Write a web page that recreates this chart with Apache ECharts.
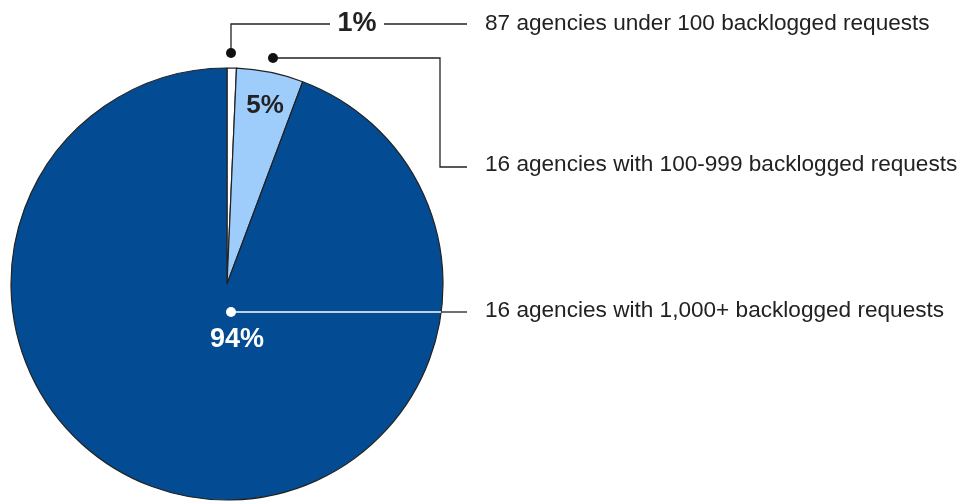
<!DOCTYPE html>
<html>
<head>
<meta charset="utf-8">
<script src="https://cdn.jsdelivr.net/npm/echarts@6/dist/echarts.min.js"></script>
<style>
  html, body { margin: 0; padding: 0; background: #fff; }
  #chart { width: 978px; height: 501px; }
</style>
</head>
<body>
<div id="chart"></div>
<script>
// data
const categories = [
  '87 agencies under 100 backlogged requests',
  '16 agencies with 100-999 backlogged requests',
  '16 agencies with 1,000+ backlogged requests'
]
const shares = [0.7, 5.0, 94.3] // share of backlogged requests, %
const sliceColors = ['#ffffff', '#9fcdfb', '#034c93']

const font = 'Arial, "Liberation Sans", sans-serif'
const ink = '#222222'

const chart = echarts.init(document.getElementById('chart'), null, { renderer: 'canvas' })

const pct = i => Math.round(shares[i]) + '%'

// leader lines + labels (annotation, not data marks)
const graphics = [
  // slice 0: under 100
  { type: 'polyline', shape: { points: [[231, 53], [231, 24], [330, 24]] }, style: { stroke: ink, lineWidth: 1.3, fill: null } },
  { type: 'line', shape: { x1: 384, y1: 24, x2: 467, y2: 24 }, style: { stroke: ink, lineWidth: 1.3 } },
  { type: 'circle', shape: { cx: 231, cy: 53, r: 5 }, style: { fill: '#111' } },
  { type: 'text', x: 357, y: 24, style: { text: pct(0), font: 'bold 27px ' + font, fill: ink, align: 'center', verticalAlign: 'middle' } },
  // slice 1: 100-999
  { type: 'polyline', shape: { points: [[273, 58], [440, 58], [440, 167], [467, 167]] }, style: { stroke: ink, lineWidth: 1.3, fill: null } },
  { type: 'circle', shape: { cx: 273, cy: 58, r: 5 }, style: { fill: '#111' } },
  { type: 'text', x: 265, y: 106, style: { text: pct(1), font: 'bold 26px ' + font, fill: ink, align: 'center', verticalAlign: 'middle' } },
  // slice 2: 1,000+
  { type: 'line', shape: { x1: 231, y1: 312, x2: 441, y2: 312 }, style: { stroke: '#ffffff', lineWidth: 1.3 } },
  { type: 'line', shape: { x1: 441, y1: 312, x2: 467, y2: 312 }, style: { stroke: ink, lineWidth: 1.3 } },
  { type: 'circle', shape: { cx: 231, cy: 312, r: 5 }, style: { fill: '#ffffff' } },
  { type: 'text', x: 237, y: 340, style: { text: pct(2), font: 'bold 27px ' + font, fill: '#ffffff', align: 'center', verticalAlign: 'middle' } }
]

const labelY = [24, 165, 311]
categories.forEach((c, i) => {
  graphics.push({
    type: 'text', x: 485, y: labelY[i],
    style: { text: c, font: '22.6px ' + font, fill: ink, align: 'left', verticalAlign: 'middle' }
  })
})
// keep annotations above the pie
graphics.forEach(g => { g.z = 100 })

chart.setOption({
  animation: false,
  backgroundColor: '#ffffff',
  series: [
    {
      type: 'pie',
      z: 1,
      center: [227, 284],
      radius: [0, 216],
      startAngle: 90,
      clockwise: true,
      avoidLabelOverlap: false,
      label: { show: false },
      labelLine: { show: false },
      itemStyle: { borderColor: ink, borderWidth: 1.2 },
      emphasis: { disabled: true },
      data: shares.map((v, i) => ({
        name: categories[i],
        value: v,
        itemStyle: { color: sliceColors[i] }
      }))
    }
  ],
  graphic: graphics
})
</script>
</body>
</html>
